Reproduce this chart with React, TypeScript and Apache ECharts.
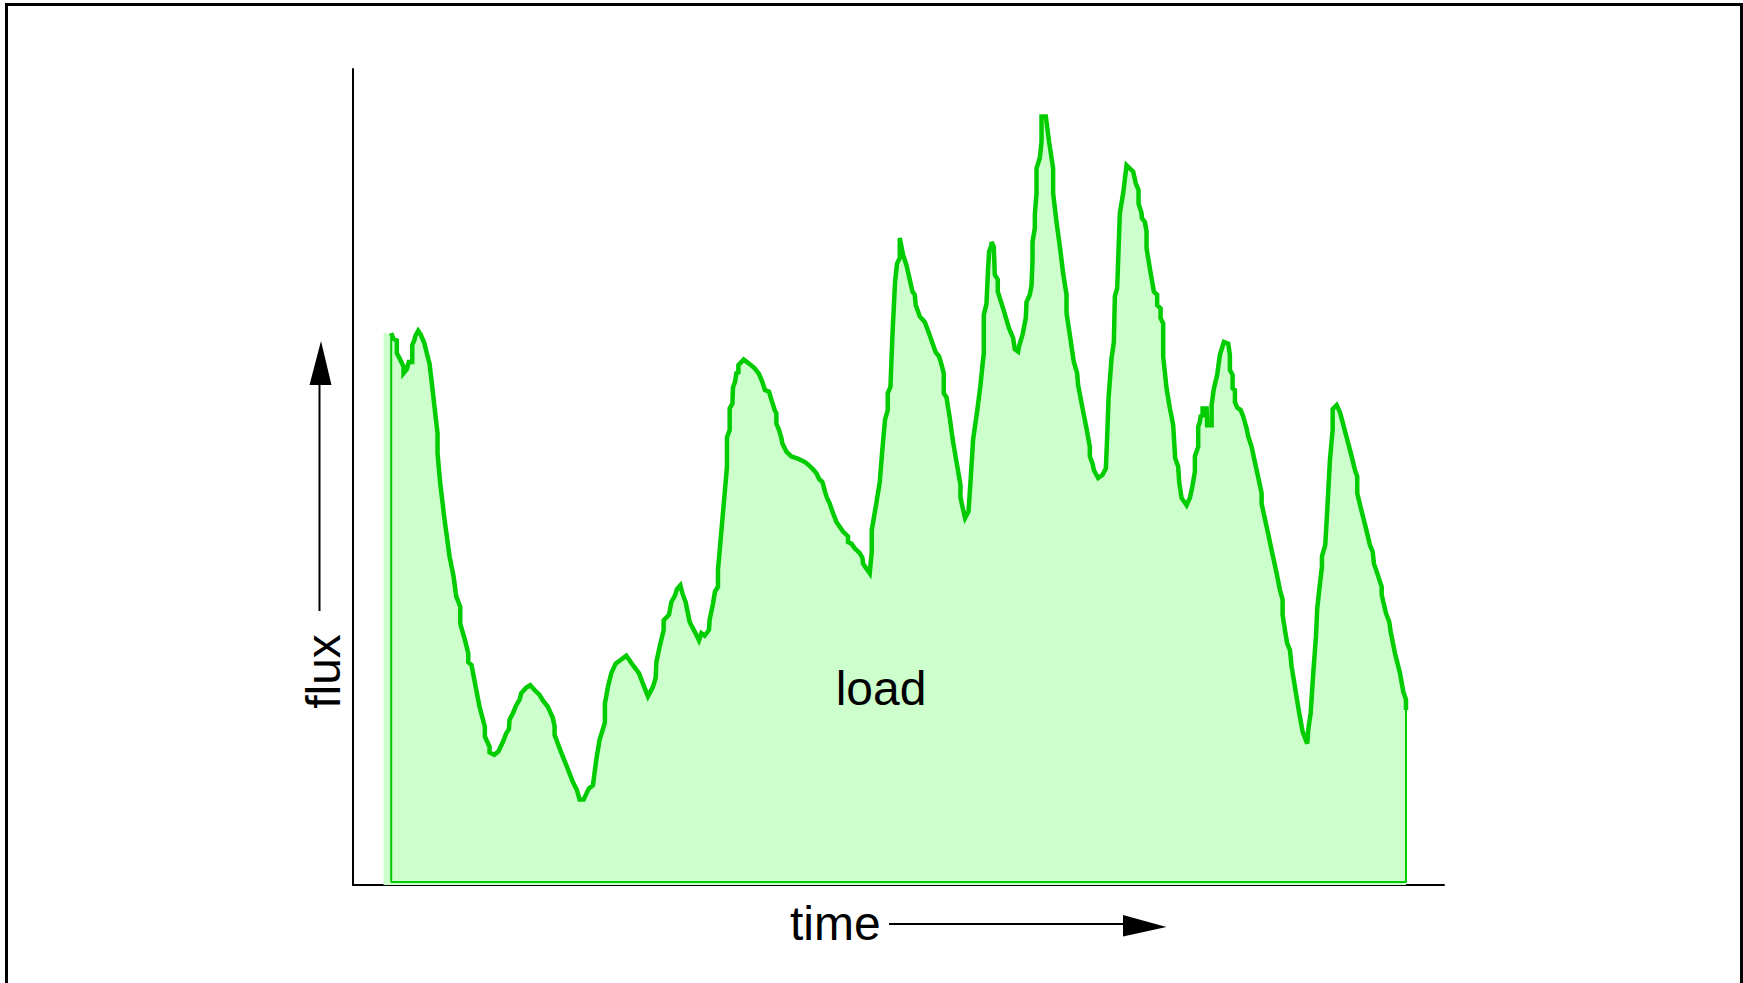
import React, { useEffect, useRef } from "react";
import * as echarts from "echarts";

// ---- data (time, flux in arbitrary units) ----
const time: number[] = [
  3.82, 4.05, 4.38, 4.38, 4.72, 5.05, 5.05, 5.38, 5.58, 5.92,
  5.92, 6.12, 6.25, 6.52, 6.78, 7.12, 7.38, 7.65, 7.92, 8.18,
  8.45, 8.45, 8.72, 9.15, 9.65, 10.05, 10.32, 10.72, 10.72, 11.18,
  11.52, 11.52, 11.85, 12.32, 12.65, 13.18, 13.18, 13.65, 13.65, 14.12,
  14.52, 14.98, 15.32, 15.58, 15.65, 15.98, 16.32, 16.65, 16.82, 17.32,
  17.72, 18.15, 18.65, 18.98, 19.48, 19.98, 20.15, 20.15, 20.65, 21.32,
  21.98, 22.38, 22.65, 23.05, 23.58, 23.98, 24.32, 24.65, 25.05, 25.18,
  25.18, 25.48, 25.82, 26.25, 27.32, 27.98, 28.58, 28.98, 29.48, 29.98,
  30.25, 30.32, 30.65, 31.05, 31.05, 31.58, 31.82, 32.18, 32.38, 32.72,
  32.92, 33.25, 33.65, 34.15, 34.58, 34.82, 35.15, 35.58, 35.65, 35.98,
  36.18, 36.48, 36.48, 36.92, 37.38, 37.38, 37.65, 37.65, 37.92, 37.98,
  38.18, 38.32, 38.52, 38.52, 39.05, 39.58, 40.15, 40.58, 40.92, 41.18,
  41.58, 41.82, 42.15, 42.32, 42.32, 42.58, 42.82, 42.92, 43.32, 43.82,
  44.32, 44.65, 45.15, 45.48, 45.98, 46.32, 46.58, 46.92, 47.18, 47.38,
  47.65, 47.92, 48.32, 48.65, 48.98, 49.48, 49.48, 49.82, 50.15, 50.65,
  50.92, 50.98, 51.25, 51.65, 51.85, 51.85, 52.25, 52.65, 52.92, 53.18,
  53.45, 53.45, 53.72, 53.92, 54.18, 54.38, 54.65, 54.65, 54.98, 55.32,
  55.65, 55.92, 56.15, 56.25, 56.48, 56.65, 57.15, 57.48, 57.88, 58.25,
  58.58, 58.82, 59.05, 59.05, 59.32, 59.65, 59.98, 60.38, 60.72, 60.72,
  60.92, 61.18, 61.52, 61.72, 61.98, 62.38, 62.72, 62.92, 63.05, 63.05,
  63.32, 63.48, 63.58, 63.82, 63.82, 64.05, 64.15, 64.45, 64.45, 64.98,
  65.58, 65.98, 66.15, 66.48, 66.58, 66.92, 67.25, 67.32, 67.65, 67.82,
  67.92, 67.92, 68.15, 68.15, 68.32, 68.32, 68.65, 68.82, 68.82, 69.25,
  69.58, 69.98, 69.98, 70.32, 70.72, 70.98, 71.32, 71.32, 71.65, 72.05,
  72.38, 72.48, 72.92, 73.32, 73.65, 73.65, 73.92, 74.05, 74.48, 74.92,
  75.25, 75.38, 75.52, 75.82, 76.05, 76.15, 76.38, 76.65, 76.98, 77.32,
  77.98, 78.25, 78.52, 78.52, 78.82, 78.85, 79.15, 79.32, 79.32, 79.65,
  80.05, 80.38, 80.38, 80.72, 80.72, 80.98, 80.98, 81.32, 81.65, 81.85,
  81.98, 82.18, 82.48, 82.58, 82.82, 83.32, 83.65, 83.92, 84.15, 84.15,
  84.48, 84.48, 84.65, 84.72, 84.92, 84.92, 85.32, 85.38, 85.82, 85.82,
  86.05, 86.38, 86.65, 87.05, 87.48, 87.65, 87.65, 87.92, 87.92, 88.15,
  88.15, 88.38, 88.72, 88.98, 89.32, 89.48, 89.82, 90.25, 90.58, 90.82,
  90.82, 91.32, 91.82, 92.32, 92.65, 92.92, 92.92, 93.15, 93.38, 93.65,
  93.82, 94.15, 94.58, 94.92, 95.38, 95.48, 95.72, 95.98, 96.25, 96.38,
  96.65, 96.85, 96.85, 97.18, 97.38, 97.65, 97.92, 97.92, 98.32, 98.65,
  98.85, 99.12, 99.38, 99.82, 100.15, 100.38, 100.38, 100.82, 101.25, 101.65,
  101.92, 102.05, 102.48, 102.82, 102.82, 103.25, 103.58, 103.72, 104.15, 104.65,
  104.98, 105.25, 105.25,
];

const flux: number[] = [
  68.6, 67.9, 67.7, 66.1, 65.3, 64.4, 63.6, 64.1, 65.0, 65.0,
  67.1, 67.7, 68.3, 68.9, 68.4, 67.4, 66.1, 64.8, 61.9, 59.0,
  56.1, 53.6, 49.8, 45.3, 40.7, 38.2, 35.7, 34.4, 32.3, 30.3,
  28.6, 27.5, 27.1, 24.0, 21.9, 19.4, 18.2, 16.9, 16.2, 15.9,
  16.3, 17.5, 18.6, 19.1, 20.3, 21.1, 22.1, 22.8, 23.6, 24.3,
  24.6, 24.0, 23.4, 22.7, 21.9, 20.5, 19.4, 18.4, 16.7, 14.6,
  12.5, 11.5, 10.3, 10.3, 11.7, 12.1, 15.3, 17.8, 19.4, 20.0,
  22.3, 24.4, 26.1, 27.3, 28.3, 27.1, 26.1, 24.8, 23.2, 24.4,
  25.5, 27.5, 29.4, 31.5, 32.7, 33.4, 35.0, 35.8, 36.6, 37.1,
  36.1, 35.0, 32.5, 31.3, 30.2, 31.1, 30.8, 31.5, 32.8, 34.8,
  36.3, 36.9, 39.0, 45.3, 51.9, 55.6, 56.5, 59.2, 59.8, 61.8,
  62.5, 63.6, 63.7, 64.6, 65.3, 64.8, 64.2, 63.5, 62.5, 61.5,
  61.3, 60.3, 59.0, 58.6, 57.3, 56.5, 55.5, 54.8, 53.8, 53.2,
  53.0, 52.8, 52.5, 52.2, 51.6, 51.1, 50.4, 50.0, 48.8, 48.0,
  47.3, 46.3, 45.0, 44.4, 43.8, 43.2, 42.5, 42.3, 41.7, 41.1,
  40.5, 39.8, 39.3, 38.6, 41.3, 44.0, 46.9, 50.0, 54.2, 57.8,
  59.0, 61.1, 61.9, 68.4, 75.0, 77.3, 78.0, 80.5, 78.4, 77.1,
  75.3, 73.8, 73.4, 72.1, 71.3, 70.7, 70.0, 68.9, 67.5, 66.2,
  65.7, 64.7, 63.6, 61.1, 60.6, 58.0, 55.0, 52.1, 49.6, 48.1,
  46.9, 45.5, 46.3, 50.0, 55.3, 58.8, 62.1, 64.6, 66.1, 70.9,
  72.3, 76.7, 78.8, 79.6, 80.0, 79.4, 75.9, 75.3, 73.8, 71.7,
  69.2, 68.0, 66.6, 66.3, 67.0, 68.4, 70.5, 72.5, 73.4, 74.6,
  77.8, 80.0, 81.7, 83.4, 86.1, 89.2, 90.5, 92.5, 95.7, 95.7,
  92.5, 89.2, 86.1, 82.5, 78.8, 76.1, 73.4, 71.1, 68.4, 65.0,
  63.6, 62.1, 59.2, 56.7, 54.4, 53.2, 52.3, 51.5, 50.5, 50.9,
  51.7, 55.5, 60.5, 65.5, 67.5, 73.2, 74.2, 83.6, 86.1, 89.6,
  88.8, 87.3, 86.5, 84.8, 83.6, 83.0, 82.5, 81.3, 79.2, 76.7,
  73.8, 73.4, 72.1, 71.7, 70.5, 69.8, 65.7, 61.7, 59.2, 58.0,
  57.1, 53.0, 51.9, 50.0, 48.0, 47.1, 48.0, 49.6, 51.3, 53.2,
  54.4, 56.9, 57.5, 58.2, 58.3, 59.2, 59.2, 57.1, 57.1, 59.6,
  61.7, 63.4, 65.9, 67.5, 67.3, 65.9, 64.0, 63.4, 61.7, 61.5,
  60.0, 59.3, 59.0, 58.2, 56.7, 55.7, 54.4, 51.9, 50.0, 48.6,
  47.3, 44.4, 41.5, 38.6, 36.5, 35.3, 33.4, 31.5, 29.8, 29.0,
  26.9, 24.4, 21.1, 18.8, 17.3, 19.0, 21.1, 26.1, 30.7, 34.2,
  37.3, 39.4, 40.7, 42.1, 46.5, 52.8, 56.5, 59.1, 59.6, 58.7,
  57.8, 56.5, 55.3, 53.2, 51.5, 50.7, 48.6, 46.3, 44.2, 42.1,
  41.3, 39.8, 38.2, 36.9, 35.9, 33.6, 32.5, 31.3, 28.6, 26.1,
  23.8, 22.8, 21.5,
];

// fill begins a little before the drawn line
const fillStartTime = 3.05;

// axis bounds
const timeMin = 0;
const timeMax = 109.05;
const fluxMin = -0.375;
const fluxMax = 101.625;

const xLabel = "time";
const yLabel = "flux";
const seriesLabel = "load";

const FONT = '"Liberation Sans", Arial, Helvetica, sans-serif';
const FONT_SIZE = 48;
const LINE_GREEN = "#00cc00";
const FILL_GREEN = "#ccffcc";

export default function App() {
  const ref = useRef<HTMLDivElement>(null);

  useEffect(() => {
    if (!ref.current) return;
    const chart = echarts.init(ref.current, undefined, { renderer: "svg" });

    const points = time.map((t, i) => [t, flux[i]]);
    const n = time.length;
    const fillPoints = [[fillStartTime, flux[0]], ...points];
    const outline = [
      [time[0], flux[0]],
      [time[0], 0],
      [time[n - 1], 0],
      [time[n - 1], flux[n - 1]],
    ];

    chart.setOption({
      animation: false,
      backgroundColor: "#ffffff",
      grid: { left: 353, top: 69, right: 299, bottom: 98, containLabel: false },
      xAxis: {
        type: "value",
        min: timeMin,
        max: timeMax,
        axisLine: { show: true, onZero: false, lineStyle: { color: "#000", width: 2 } },
        axisTick: { show: false },
        axisLabel: { show: false },
        splitLine: { show: false },
      },
      yAxis: {
        type: "value",
        min: fluxMin,
        max: fluxMax,
        axisLine: { show: true, onZero: false, lineStyle: { color: "#000", width: 2 } },
        axisTick: { show: false },
        axisLabel: { show: false },
        splitLine: { show: false },
      },
      series: [
        {
          type: "line",
          name: "fill",
          data: fillPoints,
          symbol: "none",
          showSymbol: false,
          silent: true,
          lineStyle: { width: 0, opacity: 0 },
          areaStyle: { color: FILL_GREEN, opacity: 1, origin: "start" },
          z: 1,
        },
        {
          type: "line",
          name: "outline",
          data: outline,
          symbol: "none",
          showSymbol: false,
          silent: true,
          lineStyle: { color: LINE_GREEN, width: 2 },
          z: 2,
        },
        {
          type: "line",
          name: seriesLabel,
          data: points,
          symbol: "none",
          showSymbol: false,
          lineStyle: { color: LINE_GREEN, width: 4.5, join: "miter", miterLimit: 10 },
          z: 3,
        },
      ],
      graphic: [
        {
          type: "rect",
          silent: true,
          shape: { x: 6.5, y: 4.5, width: 1735, height: 1000 },
          style: { fill: "none", stroke: "#000", lineWidth: 3 },
        },
        {
          type: "line",
          silent: true,
          shape: { x1: 319.5, y1: 385, x2: 319.5, y2: 611 },
          style: { stroke: "#000", lineWidth: 2 },
        },
        {
          type: "polygon",
          silent: true,
          shape: { points: [[309.5, 385], [321, 341], [331.5, 385]] },
          style: { fill: "#000" },
        },
        {
          type: "line",
          silent: true,
          shape: { x1: 889, y1: 924, x2: 1124, y2: 924 },
          style: { stroke: "#000", lineWidth: 2 },
        },
        {
          type: "polygon",
          silent: true,
          shape: { points: [[1123, 915], [1166.5, 927], [1123, 936.5]] },
          style: { fill: "#000" },
        },
        {
          type: "text",
          x: 790,
          y: 923.4,
          style: {
            text: xLabel,
            fontSize: FONT_SIZE,
            fontFamily: FONT,
            fill: "#000",
            textAlign: "left",
            textVerticalAlign: "middle",
          },
        },
        {
          type: "text",
          x: 323.9,
          y: 671.5,
          rotation: Math.PI / 2,
          style: {
            text: yLabel,
            fontSize: FONT_SIZE,
            fontFamily: FONT,
            fill: "#000",
            textAlign: "center",
            textVerticalAlign: "middle",
          },
        },
        {
          type: "text",
          x: 881,
          y: 688.4,
          z: 10,
          style: {
            text: seriesLabel,
            fontSize: FONT_SIZE,
            fontFamily: FONT,
            fill: "#000",
            textAlign: "center",
            textVerticalAlign: "middle",
          },
        },
      ],
    });

    return () => {
      chart.dispose();
    };
  }, []);

  return (
    <div
      ref={ref}
      style={{ position: "absolute", left: 0, top: 0, width: 1743, height: 983 }}
    />
  );
}
